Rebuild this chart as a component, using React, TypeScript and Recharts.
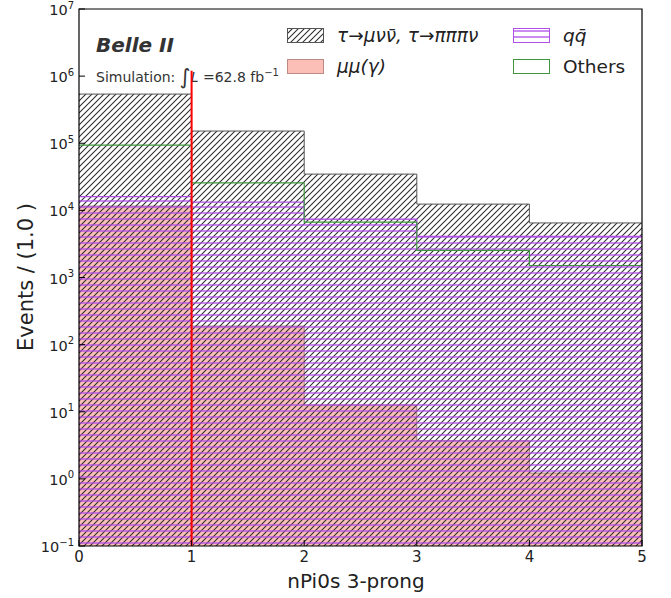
import React from "react";
import { ComposedChart, Area, XAxis, YAxis, ReferenceLine, ReferenceArea, Legend } from "recharts";

// bin edges of nPi0s (bins of width 1)
const binEdges = [0, 1, 2, 3, 4, 5];

// per-bin event counts (overlaid, not stacked)
const tauCounts = [5.4e5, 1.52e5, 3.47e4, 1.24e4, 6.5e3];
const othersCounts = [9.4e4, 2.57e4, 6.7e3, 2.53e3, 1.51e3];
const qqCounts = [1.6e4, 1.33e4, 7.4e3, 4.1e3, 4.1e3];
const mumuCounts = [1.16e4, 189, 12.6, 3.7, 1.22];

const xTicks = [0, 1, 2, 3, 4, 5];
const yTicks = [1e-1, 1, 1e1, 1e2, 1e3, 1e4, 1e5, 1e6, 1e7];
const yMinorTicks: number[] = [];
for (let e = -1; e < 7; e++) for (let m = 2; m <= 9; m++) yMinorTicks.push(m * Math.pow(10, e));

const cutValue = 1;
const cutLineTop = 1.2e6;

const FONT = "DejaVu Sans";

// step rows: the last edge repeats the last bin so the step reaches x=5
const rows = binEdges.map((x, i) => {
  const j = Math.min(i, tauCounts.length - 1);
  return { x, tau: tauCounts[j], others: othersCounts[j], qq: qqCounts[j], mumu: mumuCounts[j] };
});

const YTick = (props: any) => {
  const { x, y, payload } = props;
  const exp = Math.round(Math.log10(payload.value));
  return (
    <text x={x} y={y} textAnchor="end" fill="#222" fontFamily={FONT} fontSize={14.5}>
      <tspan dy={6}>10</tspan>
      <tspan dy={-6.5} fontSize={10}>{exp < 0 ? `\u2212${-exp}` : exp}</tspan>
    </text>
  );
};

const legendItems = [
  { key: "tau", label: "τ→μνν̄, τ→πππν", italic: true },
  { key: "mumu", label: "μμ(γ)", italic: true },
  { key: "qq", label: "qq̄", italic: true },
  { key: "others", label: "Others", italic: false },
];

const Patch = ({ k }: { k: string }) => {
  const style: Record<string, any> = {
    tau: { fill: "url(#hatchDiag)", stroke: "#555" },
    mumu: { fill: "rgba(250,128,114,0.5)", stroke: "rgba(160,100,95,0.7)" },
    qq: { fill: "url(#hatchHoriz)", stroke: "#b04ce8" },
    others: { fill: "none", stroke: "#3f963f" },
  }[k];
  return (
    <svg width={37} height={15} style={{ display: "block" }}>
      <rect x={0.5} y={0.5} width={36} height={14} {...style} strokeWidth={1} />
    </svg>
  );
};

const renderLegend = () => (
  <div
    style={{
      display: "grid",
      gridTemplateColumns: "226px 120px",
      gridAutoFlow: "column",
      gridTemplateRows: "31px 31px",
      fontFamily: FONT,
      fontSize: 18.5,
      color: "#222",
    }}
  >
    {legendItems.map((it) => (
      <div key={it.key} style={{ display: "flex", alignItems: "center", gap: 13 }}>
        <Patch k={it.key} />
        <span style={{ fontStyle: it.italic ? "italic" : "normal", whiteSpace: "nowrap" }}>{it.label}</span>
      </div>
    ))}
  </div>
);

export default function App() {
  return (
    <div style={{ position: "absolute", left: 0, top: 0, width: 671, height: 598, background: "#fff" }}>
      <ComposedChart width={671} height={598} data={rows} margin={{ top: 9, right: 29, bottom: 0, left: 0 }}>
        <defs>
          <pattern id="hatchDiag" patternUnits="userSpaceOnUse" width={6} height={6}>
            <path d="M-1,1 L1,-1 M0,6 L6,0 M5,7 L7,5" stroke="#2a2a2a" strokeWidth={1.05} />
          </pattern>
          <pattern id="hatchHoriz" patternUnits="userSpaceOnUse" width={6} height={6}>
            <line x1={0} y1={3} x2={6} y2={3} stroke="#b04ce8" strokeWidth={1.3} />
          </pattern>
        </defs>
        <XAxis
          dataKey="x"
          type="number"
          domain={[0, 5]}
          ticks={xTicks}
          allowDataOverflow
          axisLine={false}
          tickSize={-6}
          tickMargin={11}
          height={52}
          tick={{ fill: "#222", fontSize: 15, fontFamily: FONT }}
          tickLine={{ stroke: "#000" }}
        />
        <YAxis
          yAxisId="main"
          type="number"
          scale="log"
          domain={[0.1, 1e7]}
          ticks={yTicks}
          allowDataOverflow
          axisLine={false}
          width={79}
          tickSize={-6}
          tickMargin={11}
          tick={<YTick />}
          tickLine={{ stroke: "#000" }}
        />
        <YAxis
          yAxisId="minor"
          type="number"
          scale="log"
          domain={[0.1, 1e7]}
          ticks={yMinorTicks}
          allowDataOverflow
          axisLine={false}
          width={0}
          tickSize={-3}
          tick={false}
          tickLine={{ stroke: "#000" }}
        />
        <Area
          yAxisId="main"
          dataKey="mumu"
          type="stepAfter"
          baseValue={0.1}
          fill="#fa8072"
          fillOpacity={0.5}
          stroke="rgba(150,100,95,0.8)"
          strokeWidth={1}
          isAnimationActive={false}
        />
        <Area
          yAxisId="main"
          dataKey="tau"
          type="stepAfter"
          baseValue={0.1}
          fill="url(#hatchDiag)"
          fillOpacity={1}
          stroke="#555"
          strokeWidth={1}
          isAnimationActive={false}
        />
        <Area
          yAxisId="main"
          dataKey="qq"
          type="stepAfter"
          baseValue={0.1}
          fill="url(#hatchHoriz)"
          fillOpacity={1}
          stroke="#b04ce8"
          strokeWidth={1.3}
          isAnimationActive={false}
        />
        <Area
          yAxisId="main"
          dataKey="others"
          type="stepAfter"
          baseValue={0.1}
          fill="none"
          stroke="#3f963f"
          strokeWidth={1.2}
          isAnimationActive={false}
        />
        <ReferenceLine
          yAxisId="main"
          segment={[{ x: cutValue, y: 0.1 }, { x: cutValue, y: cutLineTop }]}
          stroke="#ff0000"
          strokeWidth={2}
          ifOverflow="visible"
        />
        <ReferenceArea
          yAxisId="main"
          x1={0}
          x2={5}
          y1={0.1}
          y2={1e7}
          fill="none"
          stroke="#000"
          strokeWidth={1.2}
          ifOverflow="visible"
        />
        <text x={96} y={52} fontFamily={FONT} fontSize={20} fontWeight="bold" fontStyle="italic" fill="#333">
          Belle II
        </text>
        <text x={96} y={82} fontFamily={FONT} fontSize={14} fill="#333">
          <tspan>Simulation: </tspan>
          <tspan fontSize={21} dy={2}>∫</tspan>
          <tspan fontStyle="italic" dy={-2}>L</tspan>
          <tspan> =62.8 fb</tspan>
          <tspan fontSize={10} dy={-6}>{"\u22121"}</tspan>
        </text>
        <text x={33} y={277} transform="rotate(-90, 33, 277)" textAnchor="middle" fontFamily={FONT} fontSize={21} fill="#222">
          Events / (1.0 )
        </text>
        <text x={356} y={588} textAnchor="middle" fontFamily={FONT} fontSize={20} fill="#222">
          nPi0s 3-prong
        </text>
        <Legend
          verticalAlign="middle"
          align="center"
          layout="horizontal"
          content={renderLegend}
          wrapperStyle={{ top: 20, left: 287, width: 370, height: 70 }}
        />
      </ComposedChart>
    </div>
  );
}
